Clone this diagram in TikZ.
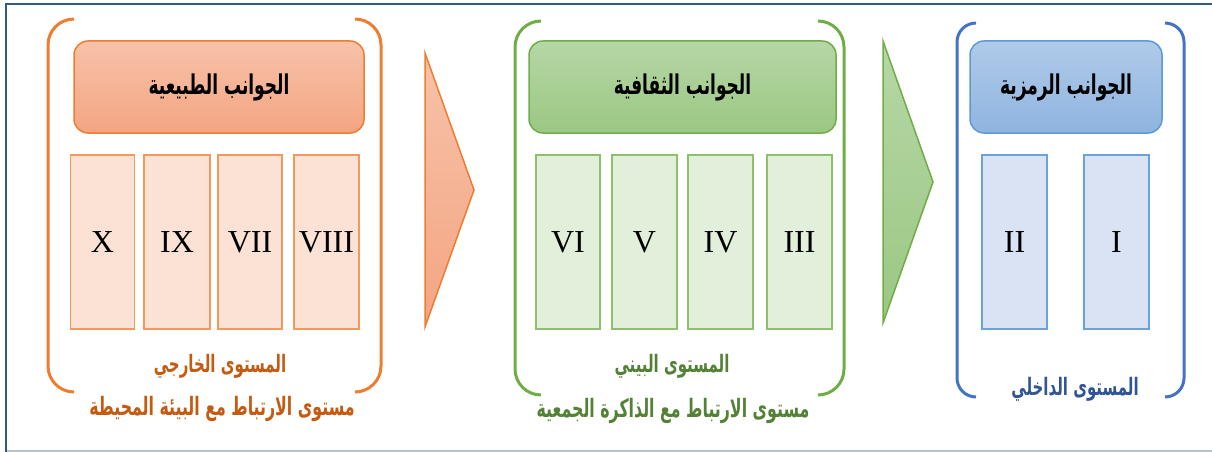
\documentclass[tikz,border=0pt]{standalone}
\usepackage{graphicx}
\usepackage{fontspec}
\setmainfont{Liberation Serif}
\newfontfamily\arabicfont[Script=Arabic]{DejaVu Sans}
\TeXXeTstate=1
\newcommand{\artext}[1]{\scalebox{1}[1.6]{\beginR #1\endR}}
\definecolor{framecol}{HTML}{2F5A86}
\definecolor{framegray}{HTML}{B6C2CD}
\definecolor{orline}{HTML}{ED7D31}
\definecolor{ortext}{HTML}{C55A11}
\definecolor{ortop}{HTML}{F7C2A9}
\definecolor{orbot}{HTML}{F4A582}
\definecolor{orcol}{HTML}{FBE2D5}
\definecolor{orcolline}{HTML}{F29A5E}
\definecolor{grline}{HTML}{70AD47}
\definecolor{grtext}{HTML}{538135}
\definecolor{grtop}{HTML}{B6D7A6}
\definecolor{grbot}{HTML}{9BC783}
\definecolor{grcol}{HTML}{E2EFDA}
\definecolor{grcolline}{HTML}{8CC06A}
\definecolor{blline}{HTML}{4472C4}
\definecolor{bltext}{HTML}{2F5597}
\definecolor{bltop}{HTML}{B0CAE9}
\definecolor{blbot}{HTML}{8FB4E0}
\definecolor{blhline}{HTML}{5B9BD5}
\definecolor{blcol}{HTML}{DAE3F3}
\definecolor{blcolline}{HTML}{6AA3DB}
\tikzset{
  header/.style={draw, line width=1.5pt, rounded corners=14pt, minimum height=92pt, inner sep=0pt, font=\arabicfont\bfseries\fontsize{17}{19}\selectfont},
  colbox/.style={draw, line width=1.3pt, minimum width=64pt, minimum height=174pt, inner sep=0pt, font=\fontsize{32}{34}\selectfont},
  bracketline/.style={line width=3pt},
  levellabel/.style={inner sep=0pt, font=\arabicfont\bfseries\fontsize{15}{17}\selectfont},
  chevron/.style={line width=1.5pt, line join=miter},
}
\begin{document}
\begin{tikzpicture}[x=1pt,y=-1pt]
\useasboundingbox (0,0) rectangle (1212,452);
% frame
\draw[framegray, line width=1.5pt] (6,451) -- (1212,451);
\draw[framecol, line width=2.5pt] (6,452) -- (6,4) -- (1212,4);

% ---------- orange group ----------
\draw[orline, bracketline, rounded corners=26pt] (74,19) -- (48,19) -- (48,392) -- (74,392);
\draw[orline, bracketline, rounded corners=26pt] (355,19) -- (381,19) -- (381,392) -- (355,392);
\node[header, draw=orline, top color=ortop, bottom color=orbot, minimum width=290pt] (hnat) at (219,87) {\artext{الجوانب الطبيعية}};
\node[colbox, draw=orcolline, fill=orcol] (cX) at (102.5,242) {X};
\node[colbox, draw=orcolline, fill=orcol, minimum width=66pt] (cIX) at (177,242) {IX};
\node[colbox, draw=orcolline, fill=orcol] (cVII) at (250,242) {VII};
\node[colbox, draw=orcolline, fill=orcol, minimum width=65pt] (cVIII) at (326.5,242) {VIII};
\node[levellabel, text=ortext] (lout) at (220,366) {\artext{المستوى الخارجي}};
\node[levellabel, text=ortext, font=\arabicfont\bfseries\fontsize{15.8}{17}\selectfont] (lenv) at (222,409) {\artext{مستوى الارتباط مع البيئة المحيطة}};

% orange chevron
\draw[orline, chevron, top color=ortop, bottom color=orbot] (425,53) -- (474,190) -- (425,327) -- cycle;

% ---------- green group ----------
\draw[grline, bracketline, rounded corners=26pt] (541,21) -- (515,21) -- (515,395) -- (541,395);
\draw[grline, bracketline, rounded corners=26pt] (818,21) -- (844,21) -- (844,395) -- (818,395);
\node[header, draw=grline, top color=grtop, bottom color=grbot, minimum width=307pt] (hcul) at (682.5,87) {\artext{الجوانب الثقافية}};
\node[colbox, draw=grcolline, fill=grcol] (cVI) at (568,242) {VI};
\node[colbox, draw=grcolline, fill=grcol, minimum width=65pt] (cV) at (644.5,242) {V};
\node[colbox, draw=grcolline, fill=grcol, minimum width=65pt] (cIV) at (720.5,242) {IV};
\node[colbox, draw=grcolline, fill=grcol, minimum width=65pt] (cIII) at (799.5,242) {III};
\node[levellabel, text=grtext] (lmid) at (672,366) {\artext{المستوى البيني}};
\node[levellabel, text=grtext, font=\arabicfont\bfseries\fontsize{15.8}{17}\selectfont] (lmem) at (673,411) {\artext{مستوى الارتباط مع الذاكرة الجمعية}};

% green chevron
\draw[grline, chevron, top color=grtop, bottom color=grbot] (883,41) -- (933,182) -- (883,323) -- cycle;

% ---------- blue group ----------
\draw[blline, bracketline, rounded corners=19pt] (976,23) -- (957,23) -- (957,397) -- (976,397);
\draw[blline, bracketline, rounded corners=19pt] (1165,23) -- (1184,23) -- (1184,397) -- (1165,397);
\node[header, draw=blhline, top color=bltop, bottom color=blbot, minimum width=192pt] (hsym) at (1066,87) {\artext{الجوانب الرمزية}};
\node[colbox, draw=blcolline, fill=blcol, minimum width=65pt] (cII) at (1014.5,242) {II};
\node[colbox, draw=blcolline, fill=blcol, minimum width=65pt] (cI) at (1116.5,242) {I};
\node[levellabel, text=bltext] (lin) at (1075,389) {\artext{المستوى الداخلي}};
\end{tikzpicture}
\end{document}
